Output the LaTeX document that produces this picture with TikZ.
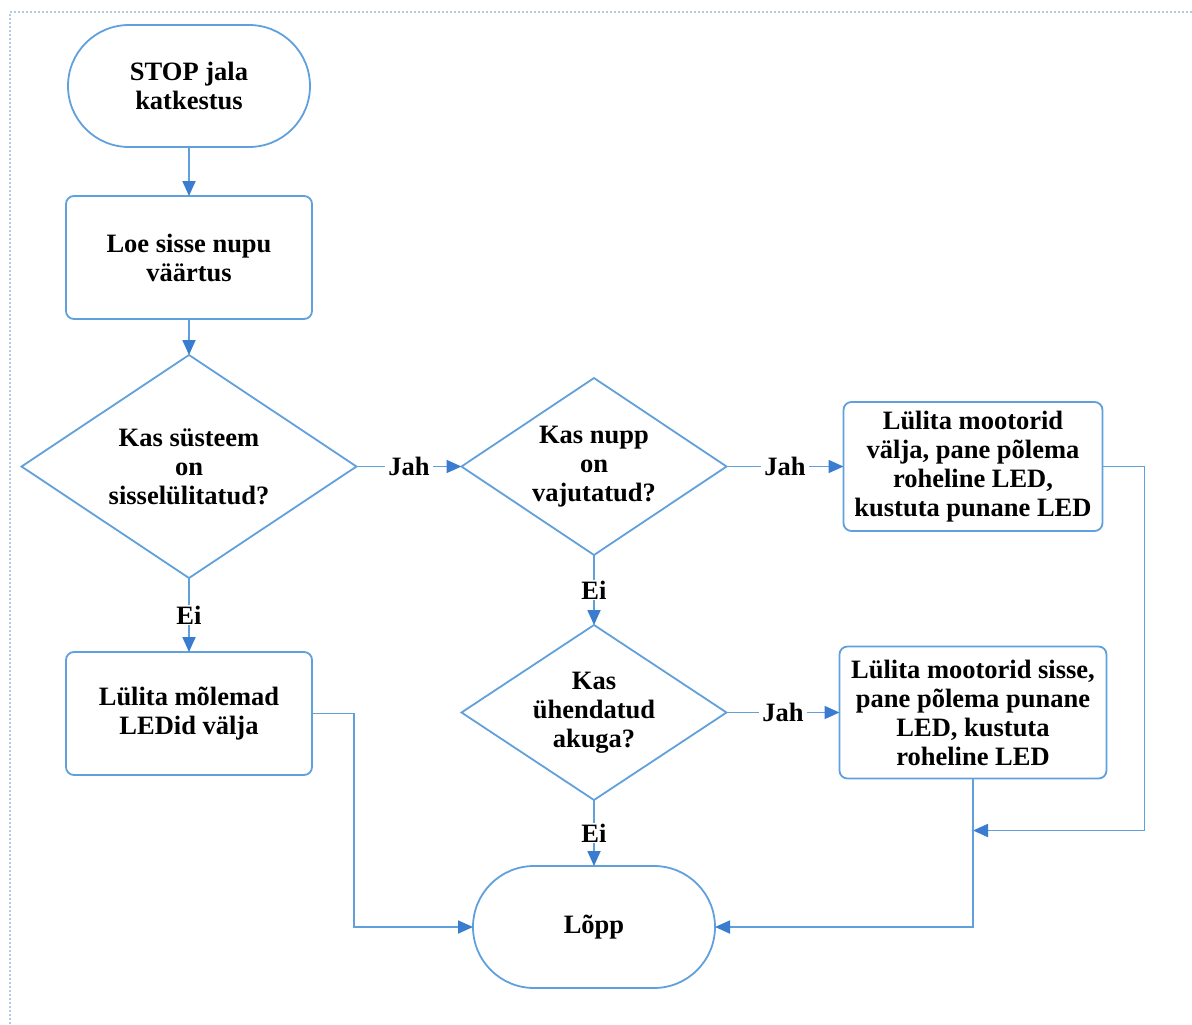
\documentclass[tikz,border=0pt]{standalone}
\usepackage{fontspec}
\setmainfont{Liberation Serif}
\usetikzlibrary{arrows.meta,positioning,shapes.geometric,shapes.misc,calc}
\definecolor{flowline}{RGB}{96,160,220}
\definecolor{flowtip}{RGB}{58,125,208}
\definecolor{framedot}{RGB}{180,200,225}
\tikzset{
  flowtext/.style={font=\bfseries\fontsize{26.5}{29}\selectfont, align=center},
  flowbox/.style={flowtext, draw=flowline, line width=1.8pt, rounded corners=8pt,
    minimum width=246pt, minimum height=123pt, inner sep=2pt, outer sep=0pt},
  flowterm/.style={flowtext, draw=flowline, line width=1.8pt, rounded rectangle,
    minimum width=246pt, minimum height=122pt, inner sep=2pt, outer sep=0pt},
  flowdecide/.style={flowtext, draw=flowline, line width=1.8pt, diamond, aspect=1.5,
    inner sep=0pt, outer sep=0pt},
  flowlabel/.style={flowtext, fill=white, inner xsep=3.5pt, inner ysep=1pt},
  flowarrow/.style={draw=flowline, line width=1.8pt,
    -{Triangle[length=15pt,width=13pt,color=flowtip]}}
}

\begin{document}
\begin{tikzpicture}[x=1pt,y=-1pt]
    \useasboundingbox (0,0) rectangle (1192,1025);
    \draw[framedot, line width=2pt, dotted] (1192,12) -- (10,12) -- (10,1025);

    \node[flowterm] (start) at (189,86) {STOP jala\\katkestus};
    \node[flowbox, below=49pt of start] (read) {Loe sisse nupu\\väärtus};
    \node[flowdecide, minimum width=335pt, minimum height=223pt, below=36pt of read]
      (ison) {Kas süsteem\\on\\sisselülitatud?};
    \node[flowdecide, minimum width=265pt, minimum height=177pt, right=105pt of ison]
      (pressed) {Kas nupp\\on\\vajutatud?};
    \node[flowbox, minimum width=259pt, minimum height=129pt, right=117pt of pressed]
      (motoff) {Lülita mootorid\\välja, pane põlema\\roheline LED,\\kustuta punane LED};
    \node[flowdecide, minimum width=265pt, minimum height=175pt, below=70pt of pressed]
      (battery) {Kas\\ühendatud\\akuga?};
    \node[flowbox, minimum width=267pt, minimum height=132pt, right=113pt of battery]
      (moton) {Lülita mootorid sisse,\\pane põlema punane\\LED, kustuta\\roheline LED};
    \node[flowbox, below=74pt of ison] (ledsoff) {Lülita mõlemad\\LEDid välja};
    \node[flowterm, below=66pt of battery] (finish) {Lõpp};
    \coordinate (merge) at ($(moton.south)+(0,52)$);

    \draw[flowarrow] (start) -- (read);
    \draw[flowarrow] (read) -- (ison);
    \draw[flowarrow] (ison.east) -- node[flowlabel] {Jah} (pressed.west);
    \draw[flowarrow] (ison.south) -- node[flowlabel] {Ei} (ledsoff.north);
    \draw[flowarrow] (pressed.east) -- node[flowlabel] {Jah} (motoff.west);
    \draw[flowarrow] (pressed.south) -- node[flowlabel] {Ei} (battery.north);
    \draw[flowarrow] (battery.east) -- node[flowlabel] {Jah} (moton.west);
    \draw[flowarrow] (battery.south) -- node[flowlabel] {Ei} (finish.north);
    \draw[flowarrow] (motoff.east) -- ++(42,0) |- (merge);
    \draw[flowarrow] (moton.south) |- (finish.east);
    \draw[flowarrow] (ledsoff.east) -- ++(42,0) |- (finish.west);
  \end{tikzpicture}
\end{document}
